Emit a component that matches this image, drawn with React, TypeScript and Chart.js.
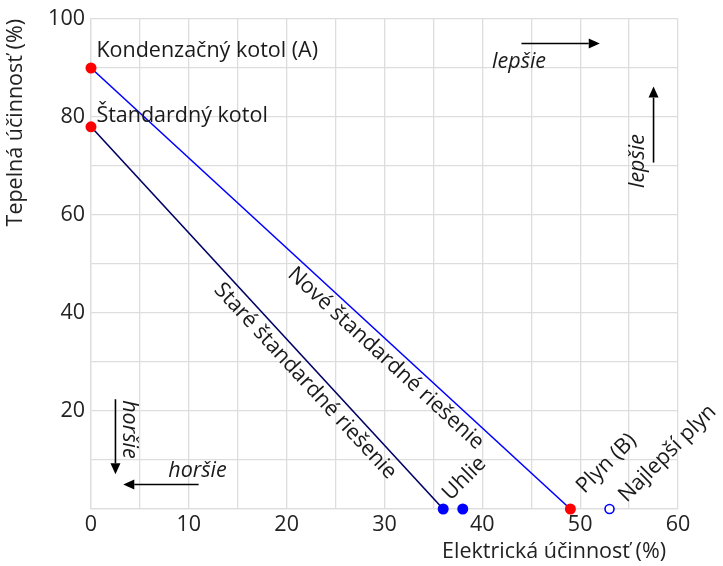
import React, { useEffect, useRef } from "react";
import { Chart, registerables } from "chart.js";

Chart.register(...registerables);

const FONT = "'Open Sans', 'Noto Sans', sans-serif";
const FS = 21.5;

// Lines (x = electrical efficiency %, y = thermal efficiency %)
const newLineX = [0, 49];
const newLineY = [90, 0];
const oldLineX = [0, 36];
const oldLineY = [78, 0];

// Points
const redX = [0, 0, 49];
const redY = [90, 78, 0];
const blueX = [36, 38];
const blueY = [0, 0];
const openX = [53];
const openY = [0];

// Axis titles
const xTitle = "Elektrická účinnosť (%)";
const yTitle = "Tepelná účinnosť (%)";

// Point / line labels
const labelTexts = [
  "Kondenzačný kotol (A)",
  "Štandardný kotol",
  "Uhlie",
  "Plyn (B)",
  "Najlepší plyn",
  "Nové štandardné riešenie",
  "Staré štandardné riešenie",
  "lepšie",
  "lepšie",
  "horšie",
  "horšie",
];
const labelX = [0.55, 0.55, 36.75, 50.45, 54.75, 20.0, 12.5, 41.0, 56.5, 3.3, 7.9];
const labelY = [92.2, 79.0, 1.6, 3.0, 1.2, 47.6, 44.6, 89.9, 65.5, 22.2, 6.6];
const labelRot: (number | string)[] = [0, 0, -45, -45, -45, "lineNew", "lineOld", 0, -90, 90, 0];
const labelItalic = [false, false, false, false, false, false, false, true, true, true, true];

// Arrows: from (x0,y0) to (x1,y1), head at end
const arrowX0 = [44, 57.5, 2.5, 11];
const arrowY0 = [95, 70.7, 22.4, 5];
const arrowX1 = [52, 57.5, 2.5, 3.3];
const arrowY1 = [95, 86.2, 7.1, 5];

const xTicksStep = 5;
const yTicksStep = 10;

const annotationPlugin = {
  id: "annotations",
  afterDatasetsDraw(chart: any) {
    const ctx = chart.ctx;
    const xs = chart.scales.x;
    const ys = chart.scales.y;
    const px = (v: number) => xs.getPixelForValue(v);
    const py = (v: number) => ys.getPixelForValue(v);
    const lineAngle = (lx: number[], ly: number[]) =>
      Math.atan2(py(ly[1]) - py(ly[0]), px(lx[1]) - px(lx[0]));

    ctx.save();
    // arrows
    ctx.strokeStyle = "#000";
    ctx.fillStyle = "#000";
    ctx.lineWidth = 1.6;
    for (let i = 0; i < arrowX0.length; i++) {
      const x0 = px(arrowX0[i]);
      const y0 = py(arrowY0[i]);
      const x1 = px(arrowX1[i]);
      const y1 = py(arrowY1[i]);
      const a = Math.atan2(y1 - y0, x1 - x0);
      const hl = 11;
      const hw = 5;
      const bx = x1 - hl * Math.cos(a);
      const by = y1 - hl * Math.sin(a);
      ctx.beginPath();
      ctx.moveTo(x0, y0);
      ctx.lineTo(bx, by);
      ctx.stroke();
      ctx.beginPath();
      ctx.moveTo(x1, y1);
      ctx.lineTo(bx + hw * Math.sin(a), by - hw * Math.cos(a));
      ctx.lineTo(bx - hw * Math.sin(a), by + hw * Math.cos(a));
      ctx.closePath();
      ctx.fill();
    }

    // labels
    ctx.fillStyle = "#1a1a1a";
    ctx.textBaseline = "alphabetic";
    ctx.textAlign = "left";
    for (let i = 0; i < labelTexts.length; i++) {
      const r = labelRot[i];
      let ang = 0;
      if (r === "lineNew") ang = lineAngle(newLineX, newLineY);
      else if (r === "lineOld") ang = lineAngle(oldLineX, oldLineY);
      else ang = ((r as number) * Math.PI) / 180;
      ctx.save();
      ctx.translate(px(labelX[i]), py(labelY[i]));
      ctx.rotate(ang);
      ctx.font = `${labelItalic[i] ? "italic " : ""}${FS}px ${FONT}`;
      ctx.fillText(labelTexts[i], 0, 0);
      ctx.restore();
    }

    // x axis title (offset from the right edge like the reference)
    ctx.font = `${FS}px ${FONT}`;
    ctx.fillStyle = "#222";
    ctx.textAlign = "right";
    ctx.fillText(xTitle, xs.right - 12, chart.height - 8);
    ctx.restore();
  },
};

export default function App() {
  const ref = useRef<HTMLCanvasElement>(null);

  useEffect(() => {
    document.body.style.margin = "0";
    const canvas = ref.current!;
    const pts = (xa: number[], ya: number[]) => xa.map((x, i) => ({ x, y: ya[i] }));
    const chart = new Chart(canvas, {
      type: "scatter",
      data: {
        datasets: [
          {
            data: pts(newLineX, newLineY),
            showLine: true,
            borderColor: "#0000ff",
            borderWidth: 1.6,
            pointRadius: 0,
            order: 5,
            clip: false,
          },
          {
            data: pts(oldLineX, oldLineY),
            showLine: true,
            borderColor: "#000066",
            borderWidth: 1.6,
            pointRadius: 0,
            order: 5,
            clip: false,
          },
          {
            data: pts(redX, redY),
            backgroundColor: "#ff0000",
            borderColor: "#ff0000",
            pointRadius: 5.5,
            borderWidth: 0,
            order: 1,
            clip: false,
          },
          {
            data: pts(blueX, blueY),
            backgroundColor: "#0000ff",
            borderColor: "#0000ff",
            pointRadius: 5.5,
            borderWidth: 0,
            order: 1,
            clip: false,
          },
          {
            data: pts(openX, openY),
            backgroundColor: "#ffffff",
            borderColor: "#0000ff",
            pointRadius: 4.5,
            borderWidth: 1.6,
            order: 1,
            clip: false,
          },
        ],
      },
      options: {
        animation: false,
        responsive: false,
        maintainAspectRatio: false,
        layout: { padding: { top: 19, right: 45, left: 0, bottom: 0 } },
        plugins: { legend: { display: false }, tooltip: { enabled: false } },
        scales: {
          x: {
            type: "linear",
            min: 0,
            max: 60,
            ticks: {
              stepSize: xTicksStep,
              autoSkip: false,
              maxRotation: 0,
              padding: 3,
              color: "#222",
              font: { size: FS, family: FONT },
              callback: (v: any) => (Number(v) % 10 === 0 ? String(v) : ""),
            },
            grid: { color: "#dddddd", lineWidth: 1.3, drawTicks: false },
            border: { color: "#dddddd", width: 1.3 },
            title: { display: false },
            afterFit: (s: any) => {
              s.height = 57;
            },
          },
          y: {
            type: "linear",
            min: 0,
            max: 100,
            ticks: {
              stepSize: yTicksStep,
              autoSkip: false,
              padding: 6,
              color: "#222",
              font: { size: FS, family: FONT },
              callback: (v: any) => (Number(v) % 20 === 0 && Number(v) !== 0 ? String(v) : ""),
            },
            grid: { color: "#dddddd", lineWidth: 1.3, drawTicks: false },
            border: { color: "#dddddd", width: 1.3 },
            title: {
              display: true,
              text: yTitle,
              align: "end",
              color: "#222",
              font: { size: FS, family: FONT },
              padding: { top: 3, bottom: 3 },
            },
            afterFit: (s: any) => {
              s.width = 91;
            },
          },
        },
      },
      plugins: [annotationPlugin],
    } as any);
    return () => chart.destroy();
  }, []);

  return (
    <div style={{ position: "absolute", left: 0, top: 0, width: 723, height: 566 }}>
      <canvas ref={ref} width={723} height={566} style={{ width: 723, height: 566 }} />
    </div>
  );
}
